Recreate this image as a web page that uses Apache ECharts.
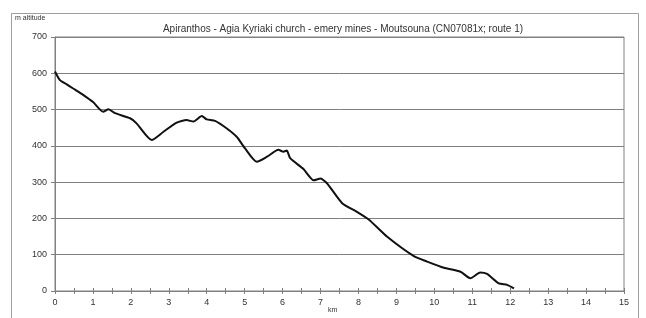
<!DOCTYPE html>
<html>
<head>
<meta charset="utf-8">
<script src="https://cdn.jsdelivr.net/npm/echarts@6/dist/echarts.min.js"></script>
<style>
  html, body { margin: 0; padding: 0; background: #fff; }
  #chart { width: 646px; height: 318px; }
</style>
</head>
<body>
<div id="chart"></div>
<script>
// Altitude profile, distance (km) vs altitude (m)
const TITLE = 'Apiranthos - Agia Kyriaki church - emery mines - Moutsouna (CN07081x; route 1)';
const km = [0, 0.13, 0.3, 0.48, 0.75, 1.01, 1.27, 1.41, 1.58, 1.98, 2.15, 2.55, 2.86, 3.21, 3.47, 3.65, 3.87, 4.0, 4.22, 4.53, 4.79, 5.01, 5.32, 5.59, 5.89, 6.02, 6.11, 6.2, 6.55, 6.82, 7.0, 7.17, 7.57, 7.96, 8.27, 8.75, 9.46, 9.81, 10.25, 10.69, 10.95, 11.21, 11.39, 11.7, 11.92, 12.1];
const altitude = [605, 581, 570, 558, 540, 520, 494, 501, 490, 476, 462, 416, 439, 464, 471, 467, 482, 473, 469, 448, 425, 393, 356, 370, 389, 384, 387, 366, 336, 305, 310, 297, 242, 218, 197, 150, 96, 81, 64, 53, 35, 51, 47, 21, 17, 7];
const xTicks = { min: 0, max: 15, interval: 1 };
const yTicks = { min: 0, max: 700, interval: 100 };

const GREY = '#808080';
const TEXT = '#333';
const FONT = 'Arial, "Liberation Sans", sans-serif';

const chart = echarts.init(document.getElementById('chart'));
chart.setOption({
  animation: false,
  backgroundColor: '#fff',
  textStyle: { fontFamily: FONT },
  title: {
    text: TITLE,
    left: 338, top: 19, textAlign: 'center',
    textStyle: { fontSize: 10, fontWeight: 'normal', color: TEXT, fontFamily: FONT }
  },
  graphic: [
    { type: 'rect', shape: { x: 11.5, y: 13.5, width: 627, height: 310 }, style: { fill: 'none', stroke: '#a0a0a0', lineWidth: 1 }, silent: true },
    { type: 'text', left: 15, top: 15, style: { text: 'm altitude', fontSize: 7, fill: TEXT, fontFamily: FONT } },
    { type: 'text', left: 328, top: 307, style: { text: 'km', fontSize: 7, fill: TEXT, fontFamily: FONT } }
  ],
  grid: { left: 55, right: 22, top: 37, bottom: 27, show: true, borderColor: GREY, borderWidth: 1, backgroundColor: '#fff' },
  xAxis: [{
    type: 'value', min: xTicks.min, max: xTicks.max, interval: xTicks.interval,
    axisLine: { lineStyle: { color: GREY } },
    axisTick: { show: true, length: 3, lineStyle: { color: GREY } },
    minorTick: { show: true, splitNumber: 2, length: 3, lineStyle: { color: GREY } },
    axisLabel: { color: TEXT, fontSize: 9, margin: 7 },
    splitLine: { show: false }
  }, {
    type: 'value', min: xTicks.min, max: xTicks.max, interval: xTicks.interval, position: 'bottom',
    axisLine: { show: false },
    axisTick: { show: true, inside: true, length: 3, lineStyle: { color: GREY } },
    minorTick: { show: true, splitNumber: 2, length: 3, lineStyle: { color: GREY } },
    axisLabel: { show: false },
    splitLine: { show: false }
  }],
  yAxis: {
    type: 'value', min: yTicks.min, max: yTicks.max, interval: yTicks.interval,
    axisLine: { show: true, lineStyle: { color: GREY } },
    axisTick: { show: true, length: 4, lineStyle: { color: GREY } },
    axisLabel: { color: TEXT, fontSize: 9, margin: 8 },
    splitLine: { lineStyle: { color: GREY, width: 1 } }
  },
  series: [{
    type: 'line',
    xAxisIndex: 0,
    data: km.map((k, i) => [k, altitude[i]]),
    showSymbol: false,
    smooth: 0.2,
    lineStyle: { color: '#111', width: 2 }
  }]
});
</script>
</body>
</html>
